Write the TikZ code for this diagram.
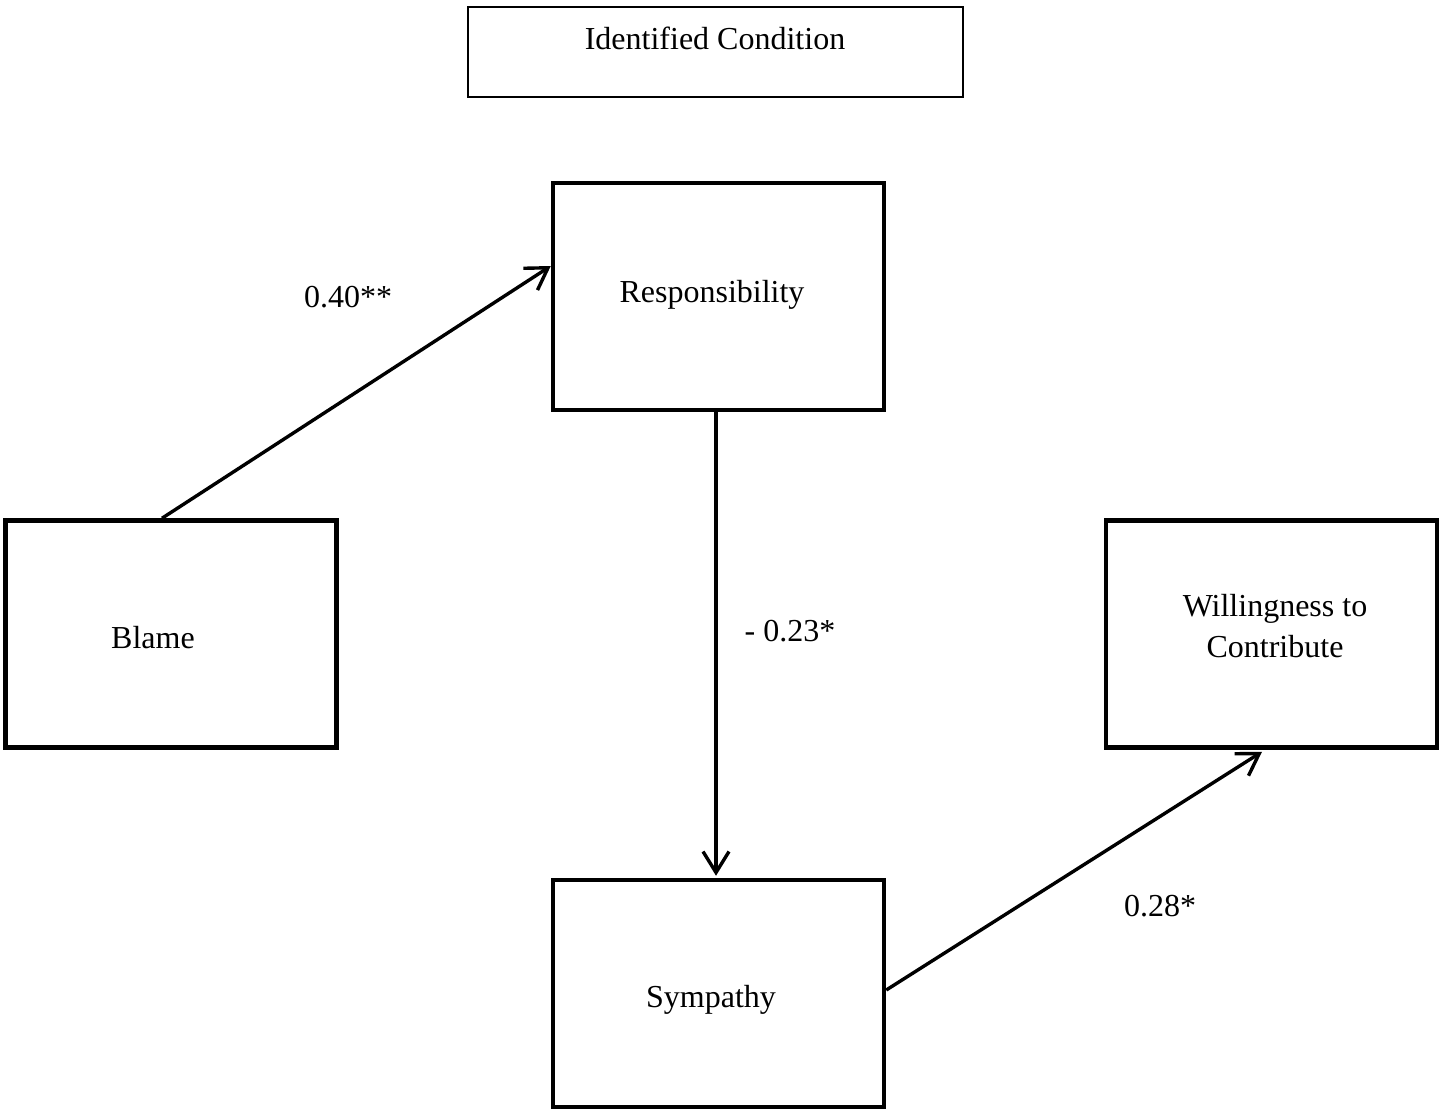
\documentclass[tikz,border=0pt]{standalone}
\usepackage{fontspec}
\setmainfont{Liberation Serif}
\usetikzlibrary{arrows.meta,calc}
\begin{document}
\begin{tikzpicture}[x=1pt,y=-1pt,
  box/.style={draw=black,line width=4.5pt,rectangle,minimum width=331pt,minimum height=227pt,inner sep=0pt},
  titlebox/.style={draw=black,line width=2pt,rectangle,minimum width=495pt,minimum height=90pt,inner sep=0pt},
  txt/.style={font=\fontsize{32}{41}\selectfont,inner sep=0pt,align=center},
  conn/.style={line width=3.4pt,-{Straight Barb[length=21pt,width=26pt,line width=3.4pt]}}]
\useasboundingbox (0,0) rectangle (1445,1110);
\fill[white] (0,0) rectangle (1445,1110);
% boxes
\node[titlebox] (title) at (715.5,52) {};
\node[box] (resp) at (718.5,296.5) {};
\node[box] (blame) at (171,634) {};
\node[box] (will) at (1271.5,634) {};
\node[box] (sym) at (718.5,993.5) {};
% texts
\node[txt] (ttitle) at (715,38) {Identified Condition};
\node[txt] (tresp) at (712,295) {Responsibility};
\node[txt] (tblame) at (153,638) {Blame};
\node[txt] (twill) at (1275,626) {Willingness to\\Contribute};
\node[txt] (tsym) at (711,1000) {Sympathy};
% connectors
\draw[conn] ([xshift=-9pt]blame.north) -- ([yshift=30.5pt]resp.west);
\draw[conn] ([xshift=-2.5pt]resp.south) -- ([xshift=-2.5pt,yshift=2pt]sym.north);
\draw[conn] ([yshift=3.5pt]sym.east) -- ([xshift=-9.5pt,yshift=-2pt]will.south);
% labels
\node[txt] (l1) at (348,297) {0.40**};
\node[txt] (l2) at (790,631) {- 0.23*};
\node[txt] (l3) at (1160,906) {0.28*};
\end{tikzpicture}
\end{document}
